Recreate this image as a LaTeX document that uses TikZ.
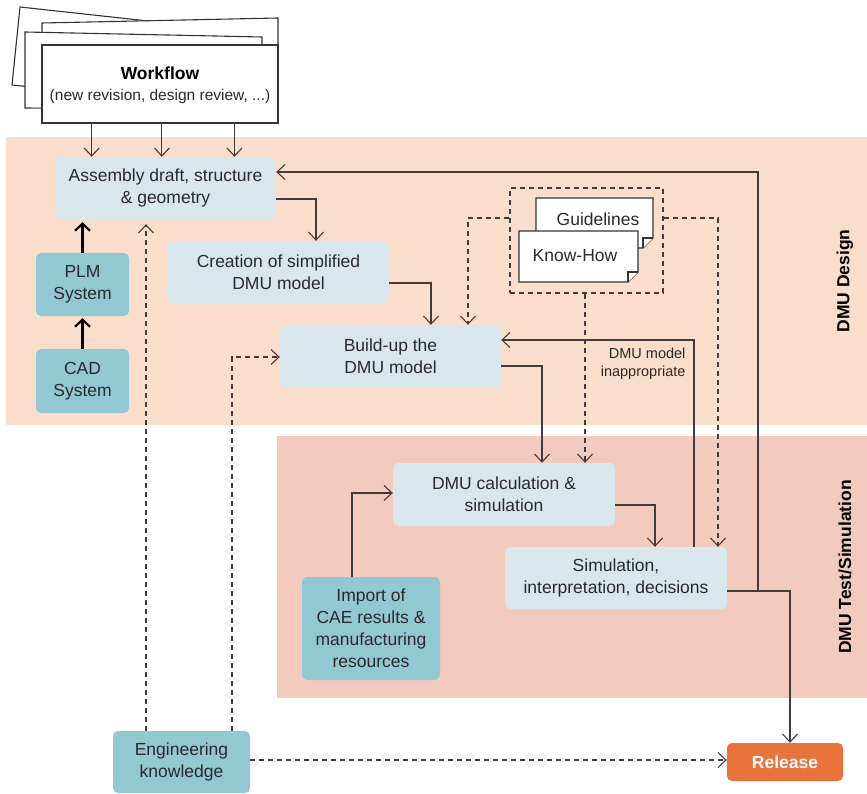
\documentclass[tikz,border=0pt]{standalone}
\usepackage{fontspec}
\setmainfont{Liberation Sans}
\usetikzlibrary{arrows.meta,calc}

\definecolor{designband}{HTML}{FADDCB}
\definecolor{testband}{HTML}{F2CBBE}
\definecolor{lightbox}{HTML}{D9E7EC}
\definecolor{tealbox}{HTML}{92C8D2}
\definecolor{releasebox}{HTML}{E8743B}
\definecolor{linecol}{HTML}{433B3B}
\definecolor{txtcol}{HTML}{2A2A2A}

\tikzset{
  boxtext/.style={font=\fontsize{17.5}{22}\selectfont, text=txtcol, align=center},
  lbox/.style={boxtext, fill=lightbox, rounded corners=5pt, inner sep=0pt},
  tbox/.style={boxtext, fill=tealbox, rounded corners=5pt, inner sep=0pt},
  rbox/.style={fill=releasebox, rounded corners=5pt, inner sep=0pt,
    text=white, font=\fontsize{17.5}{22}\selectfont\bfseries},
  arr/.style={draw=linecol, line width=1.1pt,
    -{Straight Barb[length=8pt,width=15pt,line width=1.1pt]}},
  thickarr/.style={draw=black, line width=2.2pt,
    -{Straight Barb[length=7pt,width=15pt,line width=2.2pt]}},
  dasharr/.style={arr, dash pattern=on 5pt off 4pt},
  page/.style={draw=black!80, line width=1.1pt, fill=white},
  bandlabel/.style={rotate=90, font=\fontsize{17.5}{21}\selectfont\bfseries, text=black}
}

\begin{document}
\begin{tikzpicture}[x=1pt, y=-1pt]
\useasboundingbox (0,0) rectangle (867,794);

% swim lanes
\fill[designband] (6,137) rectangle (867,425);
\fill[testband] (277,436) rectangle (867,698);
\node[bandlabel] (lanedesign) at (845,281) {DMU Design};
\node[bandlabel] (lanetest) at (845,567) {DMU Test/Simulation};

% stacked workflow sheets
\draw[page] (20,7) -- (258,33) -- (250,111) -- (12,85) -- cycle;
\draw[page] (42,23) -- (278,18) -- (278,100) -- (42,100) -- cycle;
\draw[page] (25,32) -- (262,37) -- (262,110) -- (25,108) -- cycle;
\node[page, minimum width=236pt, minimum height=78pt, inner sep=0pt] (wf) at (160,84) {};
\node[font=\fontsize{17.5}{22}\selectfont\bfseries, text=black] (wftitle) at (160,73) {Workflow};
\node[font=\fontsize{15.5}{19}\selectfont, text=txtcol] (wfsub) at (160,96) {(new revision, design review, ...)};

% process boxes
\node[lbox, minimum width=221pt, minimum height=62pt] (asm) at (165.5,188) {Assembly draft, structure\\\& geometry};
\node[lbox, minimum width=221pt, minimum height=62pt] (cre) at (278.5,272) {Creation of simplified\\DMU model};
\node[lbox, minimum width=221pt, minimum height=62pt] (bld) at (390.5,356) {Build-up the\\DMU model};
\node[lbox, minimum width=222pt, minimum height=63pt] (calc) at (504,494.5) {DMU calculation \&\\simulation};
\node[lbox, minimum width=222pt, minimum height=62pt] (sim) at (616,578) {Simulation,\\interpretation, decisions};

\node[tbox, minimum width=93pt, minimum height=63pt] (plm) at (82.5,284.5) {PLM\\System};
\node[tbox, minimum width=93pt, minimum height=64pt] (cad) at (82.5,381) {CAD\\System};
\node[tbox, minimum width=138pt, minimum height=103pt] (imp) at (371,628.5) {Import of\\CAE results \&\\manufacturing\\resources};
\node[tbox, minimum width=137pt, minimum height=62pt] (eng) at (181.5,762) {Engineering\\knowledge};
\node[rbox, minimum width=116pt, minimum height=38pt] (rel) at (785,762) {Release};

% guidelines and know-how sheets
\node[draw=linecol, line width=1.1pt, dash pattern=on 5pt off 4pt, minimum width=153pt, minimum height=105pt, inner sep=0pt] (kb) at (586.5,240.5) {};
\draw[page] (536,198) -- (653,198) -- (653,238) -- (643,248) -- (536,248) -- cycle;
\draw[page] (653,238) -- (643,238) -- (643,248);
\node[boxtext] (guide) at (598,219) {Guidelines};
\draw[page] (519,231) -- (638,231) -- (638,272) -- (628,282) -- (519,282) -- cycle;
\draw[page] (638,272) -- (628,272) -- (628,282);
\node[boxtext] (know) at (575,256) {Know-How};

% workflow feeds the assembly draft
\foreach \f in {0.212,0.508,0.814}
  \draw[arr] ($(wf.south west)!\f!(wf.south east)$) coordinate (wfp) -- (wfp |- asm.north);

% system chain
\draw[thickarr] (plm.north) -- ([yshift=-3pt]plm.north |- asm.south);
\draw[thickarr] (cad.north) -- ([yshift=-2pt]cad.north |- plm.south);

% main process flow
\draw[arr] (asm.east |- 0,199) -| (cre.north -| 316,0);
\draw[arr] (cre.east |- 0,283) -| (bld.north -| 431,0);
\draw[arr] (bld.east |- 0,366) -| (calc.north -| 542,0);
\draw[arr] (calc.east |- 0,505) -| (sim.north -| 655,0);
\draw[arr] (imp.north -| 352,0) |- (calc.west |- 0,493);
\draw[arr] (sim.east |- 0,591) -| (rel.north -| 790,0);

% feedback loops
\coordinate (junc) at (758,591);
\draw[arr] (junc) |- (asm.east |- 0,172);
\draw[arr] (sim.north -| 694,0) |- (bld.east |- 0,340);
\node[font=\fontsize{14.5}{18}\selectfont, text=txtcol, align=right, anchor=east] (inapp) at (689,364) {DMU model\\inappropriate};

% knowledge inputs
\draw[dasharr] (kb.west |- 0,218) -| (bld.north -| 468,0);
\draw[dasharr] (kb.east |- 0,218) -| (sim.north -| 718,0);
\draw[dasharr] (kb.south -| 585,0) -- (calc.north -| 585,0);
\draw[dasharr] (eng.north -| 146,0) -- ([yshift=-5pt]asm.south -| 146,0);
\draw[dasharr] (eng.north -| 232,0) |- (bld.west |- 0,357);
\draw[dasharr] (eng.east |- 0,760) -- (rel.west |- 0,760);
\end{tikzpicture}
\end{document}
